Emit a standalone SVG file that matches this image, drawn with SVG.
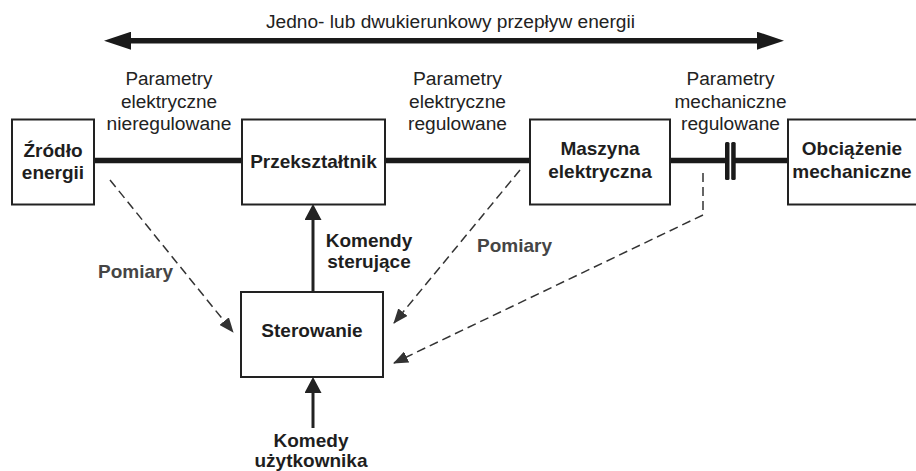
<svg xmlns="http://www.w3.org/2000/svg" width="916" height="471" viewBox="0 0 916 471">
<defs>
<style>
.box{fill:#fff;stroke:#222;stroke-width:2}
.t{font-family:"Liberation Sans",Arial,Helvetica,sans-serif;font-size:18px;fill:#222;text-anchor:middle}
.b{font-family:"Liberation Sans",Arial,Helvetica,sans-serif;font-size:19px;font-weight:bold;fill:#1e1e1e;text-anchor:middle}
.g{fill:#454545}
.power{stroke:#1a1a1a;stroke-width:5.5;fill:none}
.solid{stroke:#222;stroke-width:3;fill:none}
.dash{stroke:#333;stroke-width:1.5;stroke-dasharray:9 5;fill:none}
.bar{fill:#1a1a1a}
</style>
<marker id="bigHead" viewBox="0 0 27 18" refX="7" refY="9" markerWidth="27" markerHeight="18" markerUnits="userSpaceOnUse" orient="auto-start-reverse"><path d="M0,0 L27,9 L0,18 z" fill="#1a1a1a"/></marker>
<marker id="head" viewBox="0 0 16 17" refX="8" refY="8.5" markerWidth="16" markerHeight="17" markerUnits="userSpaceOnUse" orient="auto"><path d="M0,0 L16,8.5 L0,17 z" fill="#222"/></marker>
<marker id="dhead" viewBox="0 0 15 12" refX="14" refY="6" markerWidth="15" markerHeight="12" markerUnits="userSpaceOnUse" orient="auto"><path d="M0,0 L15,6 L0,12 z" fill="#333"/></marker>
</defs>
<rect x="0" y="0" width="916" height="471" fill="#fff"/>

<g id="connectors">
  <path class="power" d="M124,40.7 H764" marker-start="url(#bigHead)" marker-end="url(#bigHead)"/>
  <path class="power" d="M94,160.5 H242 M385,160.5 H530 M670,160.5 H727 M734,160.5 H788"/>
  <rect class="bar" x="725" y="142" width="4.5" height="38" rx="1.5"/>
  <rect class="bar" x="731.2" y="142" width="4.5" height="38" rx="1.5"/>
  <path class="solid" d="M313,292 V212" marker-end="url(#head)"/>
  <path class="solid" d="M313,428 V385" marker-end="url(#head)"/>
  <path class="dash" d="M110,180 L233,332" marker-end="url(#dhead)"/>
  <path class="dash" d="M520,170 L394,323" marker-end="url(#dhead)"/>
  <path class="dash" d="M703,173 V215 L394,363" marker-end="url(#dhead)"/>
</g>

<g id="labels">
  <text class="t" x="450.5" y="27.5" textLength="369" lengthAdjust="spacingAndGlyphs">Jedno- lub dwukierunkowy przepływ energii</text>
  <text class="t" x="169" y="85" textLength="87" lengthAdjust="spacingAndGlyphs">Parametry</text>
  <text class="t" x="169" y="107.5" textLength="96" lengthAdjust="spacingAndGlyphs">elektryczne</text>
  <text class="t" x="169" y="130" textLength="125" lengthAdjust="spacingAndGlyphs">nieregulowane</text>
  <text class="t" x="457.5" y="85" textLength="89" lengthAdjust="spacingAndGlyphs">Parametry</text>
  <text class="t" x="457.5" y="107.5" textLength="97" lengthAdjust="spacingAndGlyphs">elektryczne</text>
  <text class="t" x="457.5" y="130" textLength="99" lengthAdjust="spacingAndGlyphs">regulowane</text>
  <text class="t" x="730.5" y="85" textLength="88" lengthAdjust="spacingAndGlyphs">Parametry</text>
  <text class="t" x="730.5" y="107.5" textLength="112" lengthAdjust="spacingAndGlyphs">mechaniczne</text>
  <text class="t" x="730.5" y="130" textLength="99" lengthAdjust="spacingAndGlyphs">regulowane</text>
  <text class="b" x="369" y="247">Komendy</text>
  <text class="b" x="369" y="268">sterujące</text>
  <text class="b" x="311" y="447">Komedy</text>
  <text class="b" x="311" y="467">użytkownika</text>
  <text class="b g" x="135.5" y="278">Pomiary</text>
  <text class="b g" x="514.5" y="252">Pomiary</text>
</g>

<g id="zrodlo">
  <rect class="box" x="12" y="119.5" width="82" height="85"/>
  <text class="b" x="53" y="157">Źródło</text>
  <text class="b" x="53" y="179">energii</text>
</g>
<g id="przeksztaltnik">
  <rect class="box" x="242" y="119.5" width="143" height="85"/>
  <text class="b" x="313.5" y="167.5">Przekształtnik</text>
</g>
<g id="maszyna">
  <rect class="box" x="530" y="119.5" width="140" height="85"/>
  <text class="b" x="600" y="155">Maszyna</text>
  <text class="b" x="600" y="178">elektryczna</text>
</g>
<g id="obciazenie">
  <rect class="box" x="788" y="119.5" width="140" height="85"/>
  <text class="b" x="852" y="155">Obciążenie</text>
  <text class="b" x="852" y="178">mechaniczne</text>
</g>
<g id="sterowanie">
  <rect class="box" x="241" y="292" width="142" height="85"/>
  <text class="b" x="312" y="337">Sterowanie</text>
</g>
</svg>
